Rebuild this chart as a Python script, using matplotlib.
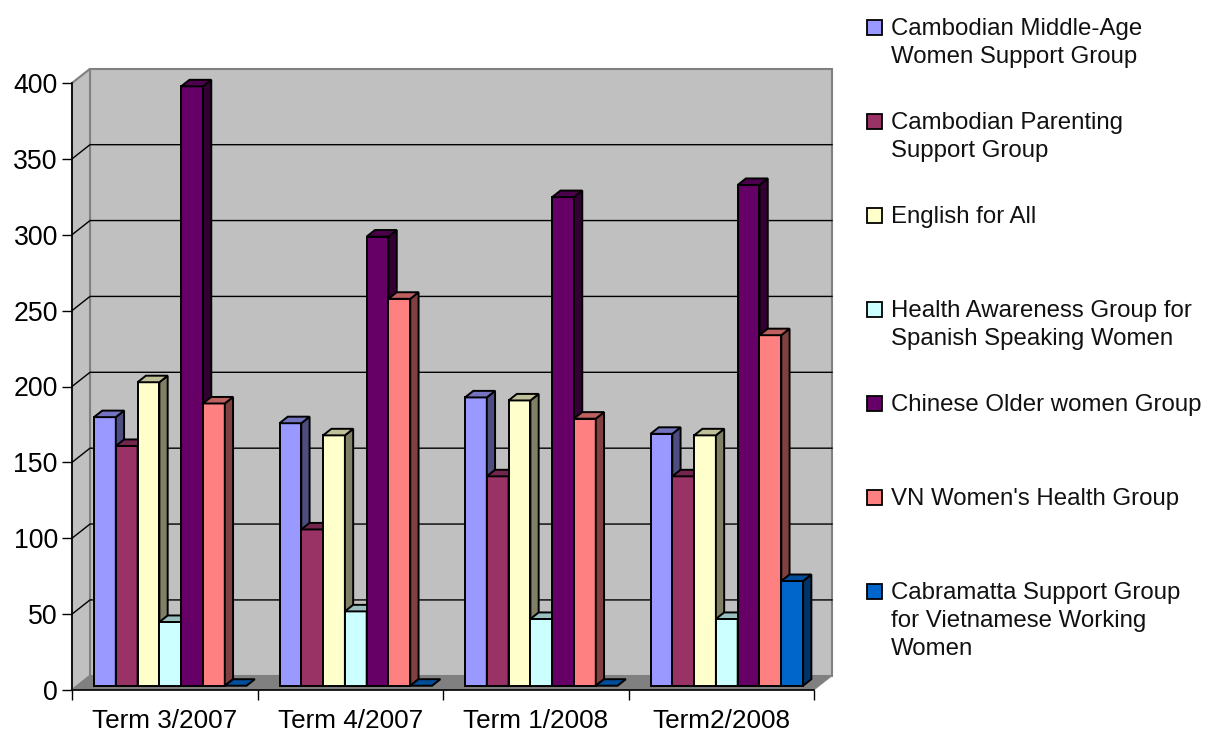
import matplotlib
matplotlib.use('Agg')
import matplotlib.pyplot as plt
from matplotlib.patches import Polygon, Rectangle
from matplotlib.colors import to_rgb

plt.rcParams['font.family'] = ['Liberation Sans', 'DejaVu Sans']

terms = ['Term 3/2007', 'Term 4/2007', 'Term 1/2008', 'Term2/2008']
groups = [
    'Cambodian Middle-Age\nWomen Support Group',
    'Cambodian Parenting\nSupport Group',
    'English for All',
    'Health Awareness Group for\nSpanish Speaking Women',
    'Chinese Older women Group',
    "VN Women's Health Group",
    'Cabramatta Support Group\nfor Vietnamese Working\nWomen',
]
colors = ['#9999FF', '#993366', '#FFFFCC', '#CCFFFF', '#660066', '#FF8080', '#0066CC']

middle_age = [177, 173, 190, 166]
parenting = [158, 103, 138, 138]
english = [200, 165, 188, 165]
health = [42, 49, 44, 44]
chinese = [395, 296, 322, 330]
vn_health = [186, 255, 176, 231]
cabramatta = [0, 0, 0, 69]
series = [middle_age, parenting, english, health, chinese, vn_health, cabramatta]

W, H = 1205, 731
fig = plt.figure(figsize=(W / 100, H / 100), dpi=100, facecolor='white')
ax = fig.add_axes([72 / W, 1 - 690 / H, 742 / W, 607 / H])
ax.set_xlim(0, 4)
ax.set_ylim(0, 400)
ax.patch.set_visible(False)

# fake 3d: depth 0 is the front plane, depth 1 the back wall
DX = 18 / 185.5
DY = 14.2 / 1.5175


def at(x, y, d):
    return (x + d * DX, y + d * DY)


def face(points, color, lw=1.4, edge='black', z=3):
    ax.add_patch(Polygon(points, closed=True, facecolor=color, edgecolor=edge,
                         linewidth=lw, clip_on=False, zorder=z, joinstyle='miter'))


def shade(color, k):
    return tuple(c * k for c in to_rgb(color))


# walls and floor
face([at(0, 0, 1), at(4, 0, 1), at(4, 400, 1), at(0, 400, 1)], '#C0C0C0', 1.5, '#808080', 1)
face([at(0, 0, 0), at(0, 0, 1), at(0, 400, 1), at(0, 400, 0)], '#C0C0C0', 1.5, '#808080', 1)
face([at(0, 0, 0), at(4, 0, 0), at(4, 0, 1), at(0, 0, 1)], '#808080', 0.5, '#808080', 1)

yticks = list(range(0, 401, 50))
for v in yticks[1:-1]:
    x0, y0 = at(0, v, 0)
    x1, y1 = at(0, v, 1)
    x2, y2 = at(4, v, 1)
    ax.plot([x0, x1, x2], [y0, y1, y2], color='black', lw=1.0, clip_on=False, zorder=2)

# bars, left to right so each front hides the side of the one before
BAR_W = 0.1175
GAP = 0.0895
D0, D1 = 0.3, 0.76
for t in range(len(terms)):
    for i, vals in enumerate(series):
        v = vals[t]
        c = colors[i]
        xl = t + GAP + i * BAR_W
        xr = xl + BAR_W
        if v > 0:
            face([at(xl, 0, D0), at(xr, 0, D0), at(xr, v, D0), at(xl, v, D0)], c)
            face([at(xr, 0, D0), at(xr, 0, D1), at(xr, v, D1), at(xr, v, D0)], shade(c, 0.5))
        face([at(xl, v, D0), at(xr, v, D0), at(xr, v, D1), at(xl, v, D1)], shade(c, 0.75))

# axes, ticks and labels
for side in ['top', 'right']:
    ax.spines[side].set_visible(False)
for side in ['left', 'bottom']:
    ax.spines[side].set_linewidth(1.2)
    ax.spines[side].set_zorder(5)
ax.set_yticks(yticks)
ax.tick_params(axis='y', length=7.2, width=1.0, labelsize=19.2, pad=3)
ax.set_xticks(range(len(terms) + 1))
ax.set_xticklabels([])
ax.set_xticks([t + 0.5 for t in range(len(terms))], minor=True)
ax.set_xticklabels(terms, minor=True, fontsize=18.8)
ax.tick_params(axis='x', which='major', length=7.2, width=1.0)
ax.tick_params(axis='x', which='minor', length=0, pad=14)

# legend down the right hand side
for i, (name, c) in enumerate(zip(groups, colors)):
    yc = 27.5 + i * 94
    fig.add_artist(Rectangle((867 / W, 1 - (yc + 7.5) / H), 15 / W, 15 / H,
                             transform=fig.transFigure, facecolor=c,
                             edgecolor='black', linewidth=1.3))
    for j, line in enumerate(name.split('\n')):
        fig.text(891 / W, 1 - (yc - 1 + j * 28) / H, line, fontsize=17.3,
                 ha='left', va='center_baseline', color='#111111')

fig.savefig('out.png', dpi=100)
